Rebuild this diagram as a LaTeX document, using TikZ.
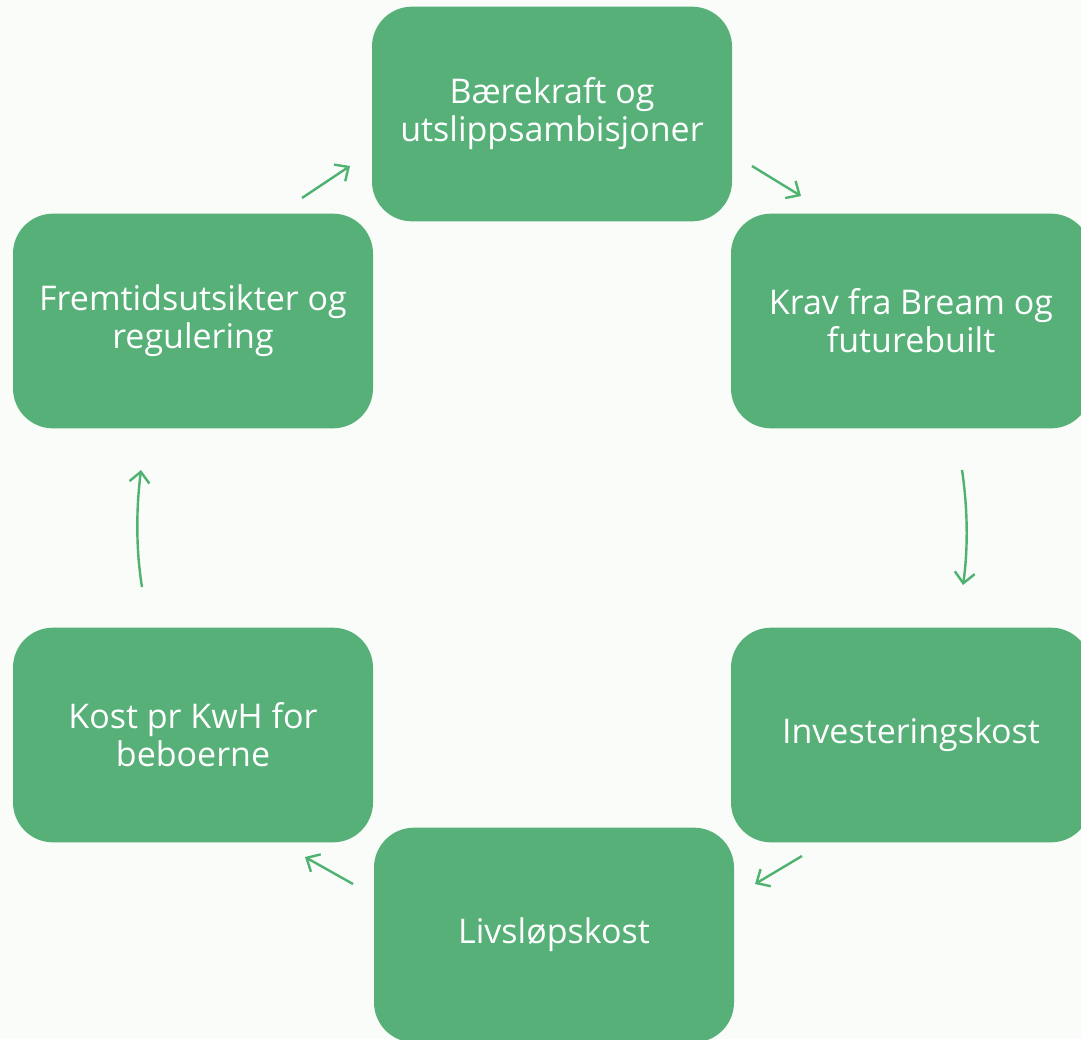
\documentclass[tikz,border=0pt]{standalone}
\usepackage{fontspec}
\setmainfont{Open Sans}
\usetikzlibrary{arrows.meta}
\definecolor{boxgreen}{RGB}{86,176,120}
\definecolor{arrowgreen}{RGB}{80,178,112}
\definecolor{paperwhite}{RGB}{249,252,249}

\begin{document}
\begin{tikzpicture}[x=0.75pt, y=-0.75pt,
    cyclebox/.style={fill=boxgreen, rounded corners=30pt, minimum width=270pt,
        minimum height=161pt, align=center, text=white, font=\fontsize{25.5}{28.5}\selectfont},
    cyclearrow/.style={draw=arrowgreen, line width=1.8pt,
        -{Straight Barb[length=8pt, width=15pt, line width=1.8pt]}}]
% Background
\fill[paperwhite] (0,0) rectangle (1081,1039);
\useasboundingbox (0,0) rectangle (1081,1039);

% Boxes
\node[cyclebox] (baerekraft) at (552,114) {Bærekraft og\\utslippsambisjoner};
\node[cyclebox] (krav) at (911,321) {Krav fra Bream og\\futurebuilt};
\node[cyclebox] (invest) at (911,735) {Investeringskost};
\node[cyclebox] (livslop) at (554,935) {Livsløpskost};
\node[cyclebox] (kwh) at (193,735) {Kost pr KwH for\\beboerne};
\node[cyclebox] (fremtid) at (193,321) {Fremtidsutsikter og\\regulering};

% Arrow ends
\coordinate (a1s) at (302,198);  \coordinate (a1e) at (350,166);
\coordinate (a2s) at (752,166);  \coordinate (a2e) at (801,196);
\coordinate (a3s) at (962,470);  \coordinate (a3e) at (963,585);
\coordinate (a4s) at (802,856);  \coordinate (a4e) at (755,884);
\coordinate (a5s) at (353,884);  \coordinate (a5e) at (305,857);
\coordinate (a6s) at (142,587);  \coordinate (a6e) at (141,470);

% Arrows
\draw[cyclearrow] (a1s) -- (a1e);
\draw[cyclearrow] (a2s) -- (a2e);
\draw[cyclearrow] (a3s) .. controls (968,510) and (968,550) .. (a3e);
\draw[cyclearrow] (a4s) -- (a4e);
\draw[cyclearrow] (a5s) -- (a5e);
\draw[cyclearrow] (a6s) .. controls (136,550) and (136,510) .. (a6e);
\end{tikzpicture}
\end{document}
